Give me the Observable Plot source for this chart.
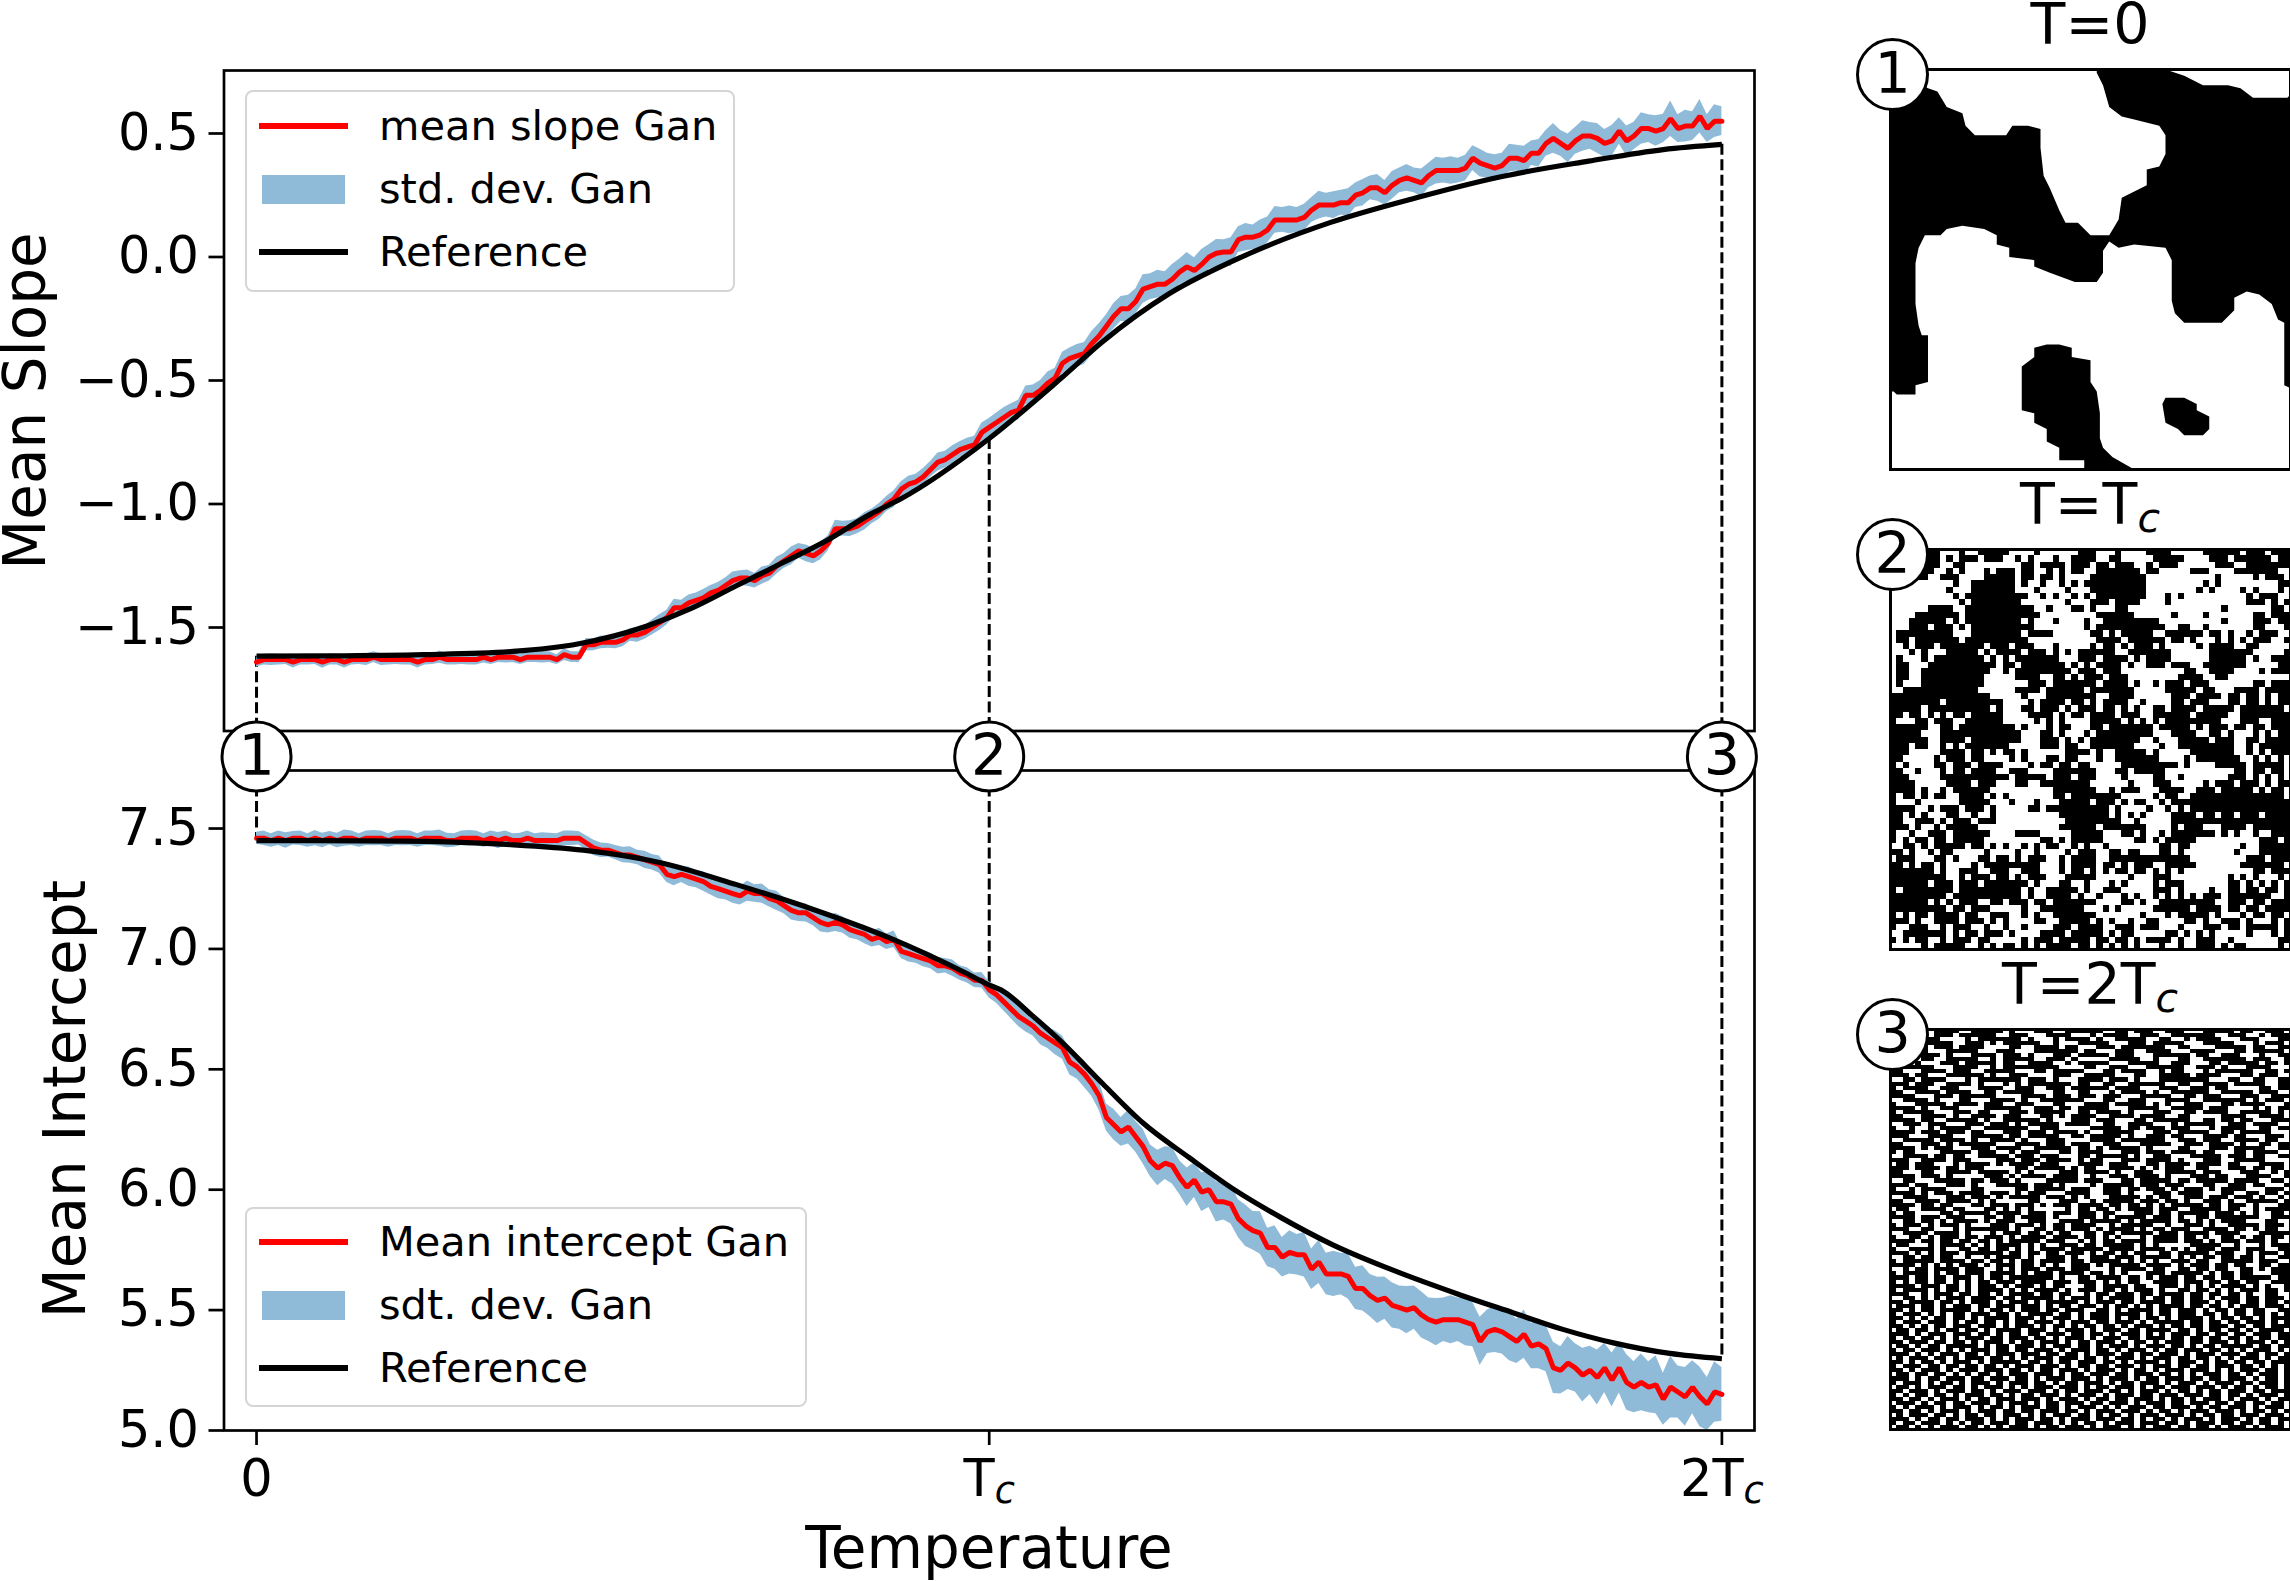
<!DOCTYPE html>
<html><head><meta charset="utf-8">
<script src="https://cdn.jsdelivr.net/npm/d3@7"></script>
<script src="https://cdn.jsdelivr.net/npm/@observablehq/plot@0.6"></script>
<style>
body{margin:0;background:#fff}
#fig{position:relative;width:2290px;height:1581px;overflow:hidden;font-family:"DejaVu Sans";color:#000}
#fig .t{position:absolute;white-space:nowrap;transform:translate(-50%,-50%);line-height:.85}
#fig .lg{position:absolute;box-sizing:border-box;background:#fff;border:2.7px solid #d5d5d5;border-radius:8px}
#fig .it{position:absolute;white-space:nowrap;font-size:41.5px;line-height:42px}
#fig i.s{font-size:.72em;position:relative;top:.2em}
</style></head><body><div id="fig"></div>
<script>
// values
const ganT = [0,0.01,0.02,0.03,0.04,0.05,0.06,0.07,0.08,0.09,0.1,0.11,0.12,0.13,0.14,0.15,0.16,0.17,0.18,0.19,0.2,0.21,0.22,0.23,0.24,0.25,0.26,0.27,0.28,0.29,0.3,0.31,0.32,0.33,0.34,0.35,0.36,0.37,0.38,0.39,0.4,0.41,0.42,0.43,0.44,0.45,0.46,0.47,0.48,0.49,0.5,0.51,0.52,0.53,0.54,0.55,0.56,0.57,0.58,0.59,0.6,0.61,0.62,0.63,0.64,0.65,0.66,0.67,0.68,0.69,0.7,0.71,0.72,0.73,0.74,0.75,0.76,0.77,0.78,0.79,0.8,0.81,0.82,0.83,0.84,0.85,0.86,0.87,0.88,0.89,0.9,0.91,0.92,0.93,0.94,0.95,0.96,0.97,0.98,0.99,1,1.01,1.02,1.03,1.04,1.05,1.06,1.07,1.08,1.09,1.1,1.11,1.12,1.13,1.14,1.15,1.16,1.17,1.18,1.19,1.2,1.21,1.22,1.23,1.24,1.25,1.26,1.27,1.28,1.29,1.3,1.31,1.32,1.33,1.34,1.35,1.36,1.37,1.38,1.39,1.4,1.41,1.42,1.43,1.44,1.45,1.46,1.47,1.48,1.49,1.5,1.51,1.52,1.53,1.54,1.55,1.56,1.57,1.58,1.59,1.6,1.61,1.62,1.63,1.64,1.65,1.66,1.67,1.68,1.69,1.7,1.71,1.72,1.73,1.74,1.75,1.76,1.77,1.78,1.79,1.8,1.81,1.82,1.83,1.84,1.85,1.86,1.87,1.88,1.89,1.9,1.91,1.92,1.93,1.94,1.95,1.96,1.97,1.98,1.99,2]
const slopeMean = [-1.64,-1.63,-1.63,-1.63,-1.63,-1.64,-1.63,-1.63,-1.63,-1.64,-1.63,-1.63,-1.64,-1.63,-1.63,-1.63,-1.62,-1.63,-1.63,-1.63,-1.63,-1.63,-1.64,-1.63,-1.63,-1.62,-1.63,-1.63,-1.63,-1.63,-1.63,-1.62,-1.63,-1.62,-1.62,-1.62,-1.63,-1.62,-1.62,-1.62,-1.62,-1.63,-1.61,-1.62,-1.62,-1.57,-1.57,-1.56,-1.56,-1.56,-1.55,-1.53,-1.53,-1.52,-1.5,-1.48,-1.46,-1.42,-1.42,-1.4,-1.39,-1.38,-1.36,-1.35,-1.33,-1.31,-1.3,-1.3,-1.31,-1.29,-1.28,-1.25,-1.23,-1.21,-1.19,-1.2,-1.21,-1.19,-1.16,-1.1,-1.1,-1.1,-1.09,-1.07,-1.05,-1.03,-1,-0.98,-0.94,-0.92,-0.91,-0.89,-0.86,-0.83,-0.82,-0.8,-0.78,-0.77,-0.76,-0.71,-0.69,-0.67,-0.65,-0.63,-0.62,-0.56,-0.56,-0.54,-0.51,-0.49,-0.43,-0.41,-0.4,-0.39,-0.35,-0.32,-0.28,-0.24,-0.21,-0.21,-0.18,-0.13,-0.12,-0.11,-0.11,-0.09,-0.06,-0.04,-0.055,-0.03,0,0.015,0.02,0.02,0.07,0.08,0.08,0.09,0.11,0.15,0.15,0.15,0.15,0.16,0.19,0.21,0.21,0.21,0.22,0.22,0.25,0.26,0.28,0.28,0.26,0.29,0.31,0.32,0.31,0.3,0.33,0.35,0.35,0.35,0.35,0.36,0.4,0.38,0.37,0.36,0.37,0.4,0.4,0.39,0.42,0.42,0.46,0.48,0.46,0.44,0.47,0.49,0.49,0.48,0.46,0.47,0.51,0.47,0.49,0.52,0.52,0.51,0.52,0.56,0.52,0.53,0.53,0.57,0.52,0.55,0.55]
const slopeStd = [0.02,0.022,0.024,0.022,0.02,0.024,0.022,0.022,0.02,0.025,0.022,0.022,0.024,0.022,0.02,0.024,0.022,0.024,0.022,0.02,0.022,0.022,0.024,0.022,0.02,0.025,0.022,0.022,0.02,0.022,0.022,0.024,0.02,0.022,0.024,0.022,0.02,0.022,0.022,0.024,0.022,0.02,0.024,0.022,0.022,0.025,0.024,0.026,0.024,0.026,0.028,0.026,0.03,0.028,0.03,0.032,0.03,0.034,0.03,0.032,0.03,0.034,0.03,0.032,0.03,0.035,0.03,0.033,0.03,0.035,0.032,0.034,0.03,0.036,0.03,0.034,0.032,0.036,0.03,0.034,0.03,0.032,0.03,0.035,0.03,0.032,0.03,0.034,0.03,0.032,0.03,0.034,0.032,0.036,0.034,0.036,0.032,0.036,0.034,0.038,0.036,0.038,0.04,0.036,0.04,0.038,0.042,0.04,0.044,0.04,0.044,0.042,0.046,0.044,0.048,0.05,0.046,0.052,0.05,0.055,0.05,0.058,0.052,0.056,0.05,0.06,0.052,0.058,0.052,0.06,0.05,0.056,0.05,0.058,0.052,0.056,0.05,0.06,0.052,0.054,0.05,0.056,0.05,0.054,0.05,0.056,0.048,0.054,0.05,0.056,0.05,0.054,0.048,0.054,0.05,0.056,0.05,0.054,0.05,0.056,0.05,0.054,0.05,0.056,0.05,0.052,0.05,0.056,0.05,0.054,0.05,0.056,0.052,0.058,0.05,0.056,0.052,0.06,0.052,0.058,0.054,0.062,0.054,0.06,0.056,0.062,0.054,0.06,0.056,0.064,0.056,0.062,0.058,0.072,0.056,0.064,0.058,0.068,0.056,0.066,0.058,0.07,0.058,0.066,0.06]
const refSlopeT = [0,0.1,0.228,0.35,0.44,0.533,0.594,0.655,0.716,0.777,0.838,0.879,1,1.098,1.153,1.246,1.348,1.466,1.583,1.7,1.818,1.92,2]
const refSlope = [-1.616,-1.615,-1.61,-1.597,-1.566,-1.494,-1.422,-1.331,-1.241,-1.15,-1.041,-0.98,-0.735,-0.491,-0.347,-0.148,0.005,0.14,0.24,0.326,0.388,0.435,0.456]

const interceptMean = [7.46,7.46,7.45,7.46,7.45,7.46,7.46,7.45,7.46,7.45,7.46,7.45,7.46,7.46,7.45,7.46,7.46,7.46,7.45,7.46,7.46,7.46,7.45,7.46,7.46,7.46,7.45,7.45,7.46,7.46,7.46,7.45,7.46,7.45,7.46,7.45,7.45,7.46,7.45,7.45,7.45,7.45,7.46,7.46,7.46,7.44,7.42,7.41,7.41,7.4,7.39,7.39,7.38,7.37,7.36,7.35,7.31,7.3,7.31,7.3,7.29,7.28,7.26,7.25,7.24,7.23,7.22,7.24,7.23,7.23,7.21,7.2,7.18,7.16,7.15,7.15,7.13,7.11,7.1,7.11,7.1,7.08,7.07,7.06,7.04,7.05,7.03,7.04,6.99,6.98,6.97,6.96,6.95,6.93,6.93,6.92,6.9,6.89,6.87,6.87,6.83,6.81,6.78,6.75,6.72,6.7,6.68,6.65,6.63,6.61,6.59,6.53,6.51,6.48,6.44,6.39,6.3,6.27,6.24,6.26,6.22,6.18,6.12,6.09,6.11,6.1,6.05,6.01,6.04,5.99,6,5.95,5.95,5.94,5.88,5.85,5.83,5.82,5.76,5.76,5.72,5.74,5.73,5.73,5.67,5.7,5.65,5.65,5.65,5.64,5.59,5.59,5.56,5.54,5.55,5.52,5.51,5.5,5.51,5.48,5.46,5.45,5.46,5.46,5.46,5.45,5.44,5.37,5.41,5.42,5.41,5.39,5.37,5.4,5.35,5.36,5.34,5.26,5.25,5.28,5.26,5.23,5.25,5.22,5.26,5.21,5.26,5.2,5.18,5.2,5.18,5.19,5.13,5.18,5.16,5.14,5.18,5.14,5.11,5.16,5.15]
const interceptStd = [0.025,0.03,0.028,0.03,0.032,0.028,0.03,0.028,0.032,0.03,0.028,0.03,0.034,0.03,0.028,0.03,0.032,0.03,0.028,0.03,0.032,0.03,0.028,0.03,0.03,0.034,0.03,0.028,0.03,0.032,0.03,0.028,0.03,0.034,0.03,0.028,0.03,0.03,0.028,0.032,0.03,0.028,0.03,0.03,0.028,0.03,0.032,0.03,0.028,0.03,0.032,0.034,0.03,0.036,0.032,0.036,0.034,0.038,0.034,0.04,0.036,0.04,0.036,0.042,0.036,0.04,0.038,0.042,0.036,0.04,0.036,0.04,0.034,0.04,0.036,0.038,0.034,0.04,0.034,0.038,0.034,0.036,0.032,0.038,0.032,0.036,0.032,0.034,0.03,0.034,0.03,0.034,0.032,0.034,0.03,0.034,0.03,0.032,0.03,0.032,0.034,0.036,0.038,0.04,0.042,0.045,0.042,0.048,0.044,0.05,0.048,0.054,0.05,0.056,0.052,0.06,0.056,0.064,0.06,0.07,0.064,0.072,0.066,0.074,0.068,0.076,0.07,0.08,0.072,0.08,0.074,0.084,0.076,0.082,0.078,0.086,0.08,0.088,0.08,0.09,0.082,0.09,0.084,0.092,0.084,0.09,0.086,0.094,0.086,0.094,0.088,0.094,0.088,0.096,0.088,0.094,0.09,0.098,0.09,0.096,0.09,0.098,0.09,0.1,0.09,0.098,0.092,0.1,0.09,0.096,0.092,0.1,0.092,0.1,0.094,0.104,0.096,0.106,0.098,0.11,0.1,0.112,0.1,0.114,0.102,0.112,0.104,0.116,0.106,0.118,0.106,0.12,0.108,0.128,0.108,0.122,0.11,0.124,0.11,0.126,0.112,0.124,0.117]
const refInterceptT = [0,0.2,0.341,0.446,0.55,0.655,0.759,0.864,0.968,1,1.016,1.058,1.099,1.155,1.21,1.273,1.336,1.399,1.469,1.545,1.643,1.713,1.783,1.852,1.929,2]
const refIntercept = [7.45,7.448,7.434,7.41,7.359,7.267,7.165,7.046,6.9,6.85,6.83,6.725,6.613,6.44,6.277,6.133,5.997,5.883,5.771,5.673,5.563,5.491,5.42,5.364,5.32,5.298]

const markerT = [0,1,2]
const markerLabels = ['1','2','3']
const slopeAtMarker = [-1.616,-0.735,0.456]
const interceptAtMarker = [7.45,6.85,5.298]
const slopeTicks = [0.5,0,-0.5,-1,-1.5]
const interceptTicks = [7.5,7,6.5,6,5.5,5]
const xTickLabels = ['0','Tc','2Tc']
const slopeLegend = ['mean slope Gan','std. dev. Gan','Reference']
const interceptLegend = ['Mean intercept Gan','sdt. dev. Gan','Reference']
const snapshotTitles = ['T=0','T=T<i class="s">c</i>','T=2T<i class="s">c</i>']

// T=0 snapshot: black domains as outlines in lattice cells (128 x 128, y down)
const domainMain = [[0,0],[12,6],[15,7],[18,12],[23,14],[24,18],[27,21],[37,21],[39,18],[44,18],[48,19],[48,25],[49,34],[51,38],[54,45],[56,49],[60,49],[64,53],[70,53],[73,48],[74,41],[78,39],[82,37],[82,32],[86,31],[88,27],[88,21],[86,18],[78,16],[74,15],[70,12],[68,5],[66,1],[66,0],[88,0],[94,2],[100,5],[108,5],[112,6],[116,9],[127,9],[128,8],[128,102],[126,101],[126,81],[124,80],[122,75],[118,72],[114,71],[110,73],[110,77],[106,81],[94,81],[91,78],[90,74],[90,61],[88,57],[78,56],[73,57],[70,55],[68,58],[68,65],[66,68],[59,68],[51,65],[46,63],[46,61],[38,60],[38,57],[34,56],[34,53],[30,51],[23,50],[18,51],[16,53],[11,53],[9,57],[8,62],[8,75],[9,82],[10,85],[12,85],[12,100],[8,101],[8,104],[2,104],[1,103],[0,103]]
const domainLower = [[46,89],[50,88],[54,88],[58,89],[58,92],[64,93],[64,100],[66,103],[67,110],[67,118],[68,121],[71,124],[78,128],[62,128],[62,125],[54,125],[54,121],[50,119],[50,115],[46,113],[46,110],[42,109],[42,95],[46,92]]
const domainIsland = [[88,105],[94,105],[98,107],[98,109],[102,111],[102,115],[100,117],[94,117],[92,115],[88,113],[87,107]]

// T=Tc and T=2Tc snapshots, hand estimate on a coarser grid, not the exact lattice
const latticeTc = [
"########...#..#####....#......###...#....####.....######.###.###",
"########.#.###.###..#.#...#..####..##.....#####....###.######.##",
"########..##.........##.####.###.##.###..#.###......###..#######",
"#######..#.#...#.###.##..#.#.##..#######.##.....###....#######..",
"######..###....#####.##.##.#....#########...........#.....#.###.",
"###.......#..#######.#..#..#.#.##########.........#.#.........##",
".........#...#######...#....#...#########........#.#....#.#...#.",
"..........#.##########..#.#..#.#.########...#.#..........#.###..",
"...........#.########.......#...###.####....#............###.#.#",
"......####..###########..#...##.#...##...............#.......##.",
"....#######.############.........######......#....#.......##.###",
"...######.#.#########.#...#....#..#########..........#....###.##",
"...###.###.#.##########........#.###########..##..#.......##...#",
".#########...########.####......##.#.#####..######.##.#..#.###..",
".##.#######.##########...........####.######.##.#...#.#.#.###..#",
"..#.###.#######.###.###...#.....#.##.#.###.#.....#.####..##.....",
"...#.#...#####.#.####.###.#.#.######..#######......#######.....#",
".#...#.########.#.#.#######...###.####.#.####......######.#..###",
".##...###########.##.#######.#.#.####.#..###.###..#######.....##",
".##..###########..#.#########.###.###..........##..####....#.###",
".##..##########.....####..##.#.###.###........####..##..........",
".#...##########.......###.#######.####.#..#.###.###.......##.###",
"..############......####.######.#######.....#####.##...####.####",
"################.....#...########..####......###.####.##.##.#.##",
"########.#########....#.####.##.#.####..#....##.###...##.##.#.##",
"#####.##########.#...##.###.#.###.##.#.#..##.####.#####.#######.",
"##.##.#.#.##.#####....####.#.##.####.###..######.#####..########",
"#...##.###..######.....#.#.#....#####.#.#.#.#########...###..###",
"######..##.#########.#...#.##...##.#######.#####.#.###.##.##.###",
"#####...#############...##.#...#.#########...####..##.#...#.#.##",
"######..####.########...###.#.#.########..#...#####.###..##.####",
"###.##..#.#.#######.....###.##..#######....#..#########..#.#####",
"###.....####.##.#.##.#......####.#..#####.#.....#######..#.#.###",
"##.....#.###.##....#.#...##.##...#..#######....#.#######..#.#.#.",
"#.#....##.###.####....#.##.##.##.....#########.#....#####.#####.",
"##..#...#.##.####..###....#######...##.#####...........##.##.##.",
"###.....###########.#####.###.###....#....##..#.......###.#.#.#.",
"####.....####.###...##..########......#...###.....#.###.###.#.##",
"####.#..#.######..........#######..#.###...####..###.#####.#.##.",
"#.##.#.##..####.#.#.......##.########.....#.##..###############.",
"#...#......#####...#...#...#####.###.#.##..#.###################",
"####..#.###.###.#.....##.##########.#....#..#.#.################",
"##.#.#...##..#..#..........########.#.#.#....####.##.##.###.####",
"##..###.#.###.###...........#########..#.....###################",
"###.#..#.#####.............######.#######....#.###...####.#######",
"#..#..###.######....####.....#####...##.#..#.#######.#.#..#..###",
"#.#.##.##.#####.........##.#.#####.....##.#.#####..........###.#",
"..##.#.#####.##.#.#..#.#.##..#.#..#........##.##........#..#####",
"##.#..#.##.....#....#..#....#.###..##.##...##.#........#...#####",
".###...##.#...##.##.#.###..#.####..#############.........###.###",
"##.#.##.#....#.#########...#.####.##.#.###..#####.......#######.",
"#######.#..###..###..###...#.##.#.#.##.##.#.#.#...........##.###",
"#########..#.###.##.#.###...#####.....#...###.........#.#.#...#.",
"######.###.###.#######.#...##..#...#.#....#.###.......##.#.#.#.#",
"#.########.##########.#..#####.#..###.....###.#....#..##.##.##.#",
"#########.###########.#..####.#..#...#.#..#.#.#.#.###.#######..#",
"######.#.#.###..##.###.##.#######....##.#..#########..###.##.###",
"#########.##.###.....#..#######...#.#.....######.####.##.##.####",
"#.#.##.####.##..###..#.#..#######.......#...#.#####.#...#.##.##.",
"###.#..####.###.#.#....##..#####.#.#..#..##....##.#..###.#...#.#",
"#..###..#.###..#..#..#....###.####..###.###...#...###.##.#####.#",
"..#######.#.##.###.#....####.#####.#.##.....##.#.#.#.....#...#.#",
"#.#.##..#.###.##.....#.###.#####.##.##.#.####.#..###..#.......##",
".....#.#####..#.#.##.#.#.####.##.#.#.#.#...#..#..###.#.##.....#."]
const lattice2Tc = [
"#####..####..#####.#...###..######..##.###..###...#####.##..###.#",
"####...###.######..###...####...#.####..###..#######..###..#.####",
"####.###....#.#######.#...#.####.#..#####..##..#.####...###...###",
"###..#####..###.#.######..#...#####...###.#####...#####...#.###.#",
"##...#.###.####....##..####.##...###.#######..##....#####.##..###",
"#..###...#####...###...#######.##...###..####...####...##.#####..",
"..######.#...####.###.#...###.#####.###...######.##..###...#..###",
"###..##..#####..#.#####..###.#.....#####..#...##..#######.###..##",
"###.#...###.#####.##..####..#.#####...#####..###...##.#####.##.##",
"..#####...####..#.#########....##..###...######..###.#...####...",
"##...####.###..#####...##.#####...##.####..#.##...#.######..##.##",
"###.##...######.#..###....###..#####...##..#####.####...##.###..",
"..##.####...#.#######.###.#...####.###.#...########...##..##..###",
"###.###..####.#...#.#.#######.##..##..######..##..####.#####..##.",
"#.####..###...####..###..###.######.####...###..###.##.....##.###",
"##..####.####..##.#####...##..##...#.####.#..######..#####.###..#",
"####...###.######....####.###.###.###...#####..##.###...###..####",
"..####.#...##...####.#..#######...##..###...####..#######.#.###.#",
"#...#####.####.###..###...##...####.#####.#.#..###...##.####...###",
"####.#..###....######..###.##.#####...#####..#####.###....#.#.###",
"#.#####...###.##...###.#####..##.####.#...###..##.####..#####.#..",
"##...####.#..####.###...##.#.####..####.####..##.....####..####.#",
"####.##..#####.#..######.#...###.###...##.######..##.##.##...####",
"..###.###...###.###.#.#####.####..##..####...#.#####..###.####...",
"#..#..#.#####..#######..###.....#####.##.###.###...#.####..##.###",
"####.###.###.##...###.###.####.#..#####...###.#####..##.#####...#",
"###...####...#####.##.#####..##.#####.#..###.##...####.##...###.#",
"..#####.####.#..####.#...###....####.#######..###.###..####.##..#",
"##...###.#.######...####.###.###..###...#####..###.####.#..##.###",
"####.#.###...###.####..######.##.#.#####.#....##...###.#####..###",
"#.##....#####.###..#.###...##.####...###.###.####.##...##.####..",
"..####.##.##..#####.###.###...##.#####.#..###...#####.###.##..###",
"###..####.###....###.###.####.#.##...###.####.#...###..#####....#",
".##.###...#.####.#.####.###...####.###...##.####.####.##...####.##",
"###.####.##.###.....##.#####.#.##..####.#.#.###..##...###.##.##..",
"##...##..####.#####.#.#....###.####.#..###..#####.###...###..#.###",
"####.###.#.....###.#.####.####..#..###.####.#...###.##...####..##.",
"..##...#####.##.###.#....#####.###...##.#####.##.#####.####..##.##",
"###.##...###.#...#####.###.#....#.#####.###.###...##..###.##...###",
"#..#.####....##.....##.#####.###..###.##.###.#.###.#.####...###...",
"####.#.###.####.###.#.###...####..###.#...###.####...##..##.##.###",
"..####...###.###.#.#####.###.#.#...#####.#.##..###.###.###.#..#..#",
"##..####.####.#.#.....##...###..#.#####.###.##.#..###.#..#####.###",
"####.##.##...##.###.###.#.###.####.##.##.#.#.#####.##.###.#...##.",
".##..####.##...##.#.#.#.....#.##.##.#.####.###..#####.##..#.####.#",
"#.##....##.#####.####.###.###.###.##...###.##.#####.###.#.#..##..#",
"####.###.###...##.##.####.#...###.#.#####.###.#..##.#######..###.",
"..##.##.#.####.#.###..###..####.#####.#.#####.##.#.#.####...##..#",
"#.###.#.###.#...###.###.#.##.####..#.#####..#..###.#..#####.###.#",
"###..##...#.#######.#..##.##.###.#.####.#.##.###..####.##.#.##...",
"..####.####.#...#.###.##.#.##..##.##.#####.###.####.####...#####.",
"#..##.#.###.##.###.#.####.####.##.#.#...#.####.##.#..##.#.##.##.#",
"####.##.##.##.##.#.#####.###..#.#.##.####.####.###.#.###.###.#..#",
".##...#.####.#.#.####.#.#..###.##.#####.#.#.....#####..#...#.###.",
"#..####.#..##.##.##.#.#.####.#####.####.####.#.#.###.###.###..###",
"###.#.#.###.######.##.##.##.###.#.##.#.##..##.#####.###..#.###.#.",
"..##.##.##..#..#.####.#..###.#..###.###.#####.#.#.##.##.##.#..###",
"#.#####.####.##.##.#.##.####.##.#####.#.#.#..###.##..#####.###...",
"####.#.#.#.###.#.###.##.#.#..###.#.#####.####.#.###.##.##..##.###",
"..#.##.####.###..#.#.###.###.###...#.####.##..##.##.##..##.#.###.",
"#.####.#.##.###.####.#.###.####.##.#.#...###.#####.#.##.##...###.",
"###.##.##.###.#.##.#######.#..##.####.##.#.###.##.##.##.#####.##.",
"#.#.##.##.#.#.##.###.####.###.###.#.#.##..####.###.##.##.##..###.",
"####.###.##.#.###.#.###.#.##...##.####.##..###.#.#.#.####.#.#..##",
"#.####.#.##.#.####.#.#.####.#.###.##.#.###.#..##.##.#.#.###.##.##",
"###..#.###.##.##.#.####.##.##..#.##.###.##.####.##.##.##.#..##..#",
"..##.#.#.###.####.##.#####.#.###.#.####.#.##.##.##.#.###.##.###..",
"##.####.##.#.###.#.###.#.#####.#.###.##.####.##.###.#.##.##.##.##",
".###.##.#.###.##.###.###.#.##.###.#.##.#.#.####.##.##.#.###.###.#",
"##.#.##.#####.#.##.#.###.##.###..##.#.####.##.###.#.##.##.##..###",
"#.###.#.#.##.###.##.#.####.##.#.###.####.#.##.###.##.#.##.##.#.##",
"##.#.#.##.##.#.####.###.#.###.#.###.#.##.##.#.####.#.##.##.#.###.",
"#.###.###.#.##.##.#.##.###.#.###.##.###.#.#####.##.##.##.###.#.##",
"##.#.#.##.###.###.#.###.#.##.#.##.##.#.###.#.##.##.###.##.##.###.",
".##.##.#.##.##.#.####.###.#.###.#.###.##.####.##.#.##.##.#.####.#",
"###.#.###.###.##.#.##.##.###.##.##.#.###.#.#.###.##.##.##.###.##.",
"#.##.##.#.#.###.##.###.##.#.###.#.###.##.###.##.##.##.##.#.##.###",
"##.###.##.##.#.###.#.##.###.#.##.###.#.##.#.###.##.###.#.###.#.##",
".##.#.##.#####.#.##.###.#.###.##.#.###.#.###.##.#.##.#####.##.##.",
"#.##.###.#.#.###.##.##.###.#.###.##.#.###.#.##.###.##.#.#.###.#.#",
"###.#.#.###.##.#.###.###.##.##.#.###.##.##.###.#.###.###.##.##.##",
".#.###.##.#.###.##.#.#.###.###.##.#.###.#.###.##.##.#.#.###.#.###",
"##.#.##.#.###.#.#####.##.#.##.###.##.#.####.#.###.#.##.##.##.###.",
"#.###.##.##.##.##.#.###.###.#.##.##.###.#.###.##.##.###.##.#.#.##",
"##.#.###.#.###.###.##.#.##.###.#.###.#.##.#.###.###.#.#.###.##.##",
".##.##.##.#.#.##.#.###.###.#.##.###.##.###.##.#.#.###.##.#.###.##",
"###.#.##.###.##.###.##.#.###.###.#.###.#.##.###.##.##.###.#.##.#.",
"#.###.#.##.#.###.#.###.##.#.##.###.#.##.###.#.###.#.###.##.###.##",
".##.#.###.##.#.###.#.#.###.###.#.##.###.#.##.###.###.#.##.#.##.##",
"##.###.#.###.##.#.###.###.#.##.###.##.#.###.#.##.#.##.###.##.###.",
"#.#.##.##.#.###.##.#.##.###.#.###.#.###.##.###.###.##.##.#.###.##",
"##.##.#.###.#.##.###.###.#.###.#.##.##.###.#.##.#.###.#.###.#.###",
".###.#.##.##.###.#.###.#.##.###.##.###.#.###.##.###.##.##.##.##.#",
"#.#.###.#.###.#.##.#.###.##.#.###.#.#.###.##.###.#.##.###.#.###.#",
"##.##.#.###.#.###.##.##.###.##.#.###.###.#.##.#.###.###.#.##.#.##",
".#.###.##.#.##.##.###.#.#.###.##.#.##.#.###.###.#.##.##.###.###.#",
"###.#.##.##.###.#.#.###.##.#.###.###.##.#.##.#.###.#.###.#.##.###",
"#.##.###.#.#.##.###.##.###.#.#.##.#.###.###.##.#.###.##.##.##.#.#",
".##.#.#.###.##.#.#.###.#.##.###.#.###.#.#.###.##.##.#.###.#.###.#"]

const font = 'DejaVu Sans'
const black = 'black', red = 'red', band = '#8fbbd9'
const fig = document.getElementById('fig')

const place = (svg, left, top) => {
  svg.style.position = 'absolute'
  svg.style.left = left + 'px'
  svg.style.top = top + 'px'
  fig.append(svg)
  return svg
}
const baseStyle = {background: 'transparent', maxWidth: 'none', fontFamily: font, color: 'black', overflow: 'visible'}

const addText = (html, x, y, size, rotate) => {
  const el = document.createElement('div')
  el.className = 't'
  el.innerHTML = html
  el.style.left = x + 'px'
  el.style.top = y + 'px'
  el.style.fontSize = size + 'px'
  if (rotate) el.style.transform = `translate(-50%,-50%) rotate(${rotate}deg)`
  fig.append(el)
  return el
}

// x tick labels: T with small italic c
const subscriptC = svg => {
  d3.select(svg).selectAll('text').each(function () {
    const s = this.textContent
    if (!/Tc$/.test(s)) return
    const t = d3.select(this).text(s.slice(0, -1))
    t.append('tspan').attr('font-style', 'italic').attr('font-size', '0.72em').attr('dy', '0.2em').text('c')
  })
  return svg
}

const xDomain = [-0.0444, 2.0445]
const ganRows = (mean, std) => ganT.map((t, i) => ({t, m: mean[i], s: std[i]}))
const refRows = (ts, ys) => ts.map((t, i) => ({t, y: ys[i]}))

const curveMarks = (gan, ref) => [
  Plot.areaY(gan, {x: 't', y1: d => d.m - d.s, y2: d => d.m + d.s, fill: band}),
  Plot.line(gan, {x: 't', y: 'm', stroke: red, strokeWidth: 5, strokeLinejoin: 'miter'}),
  Plot.line(ref, {x: 't', y: 'y', stroke: black, strokeWidth: 5.2, curve: 'monotone-x', strokeLinecap: 'butt'}),
]

// top panel
place(Plot.plot({
  width: 1800, height: 760,
  marginLeft: 223.5, marginRight: 46, marginTop: 70, marginBottom: 29.5,
  style: baseStyle,
  x: {domain: xDomain, axis: null},
  y: {domain: [-1.919, 0.755]},
  marks: [
    Plot.ruleX(markerT, {x: d => d, y1: (d, i) => slopeAtMarker[i], y2: -1.919, stroke: black, strokeWidth: 3, strokeDasharray: '11,4.5'}),
    ...curveMarks(ganRows(slopeMean, slopeStd), refRows(refSlopeT, refSlope)),
    Plot.axisY(slopeTicks, {tickSize: 15, tickPadding: 10, fontSize: 51, strokeWidth: 2.7, label: null, tickFormat: d3.format('.1f')}),
    Plot.frame({stroke: black, strokeWidth: 2.7}),
  ],
}), 0, 0)

// bottom panel
place(subscriptC(Plot.plot({
  width: 1800, height: 841,
  marginLeft: 223.5, marginRight: 46, marginTop: 30, marginBottom: 151,
  style: baseStyle,
  x: {domain: xDomain},
  y: {domain: [5, 7.741]},
  marks: [
    Plot.ruleX(markerT, {x: d => d, y1: 7.741, y2: (d, i) => interceptAtMarker[i], stroke: black, strokeWidth: 3, strokeDasharray: '11,4.5'}),
    ...curveMarks(ganRows(interceptMean, interceptStd), refRows(refInterceptT, refIntercept)),
    Plot.axisY(interceptTicks, {tickSize: 15, tickPadding: 10, fontSize: 51, strokeWidth: 2.7, label: null, tickFormat: d3.format('.1f')}),
    Plot.axisX(markerT, {tickSize: 15, tickPadding: 14, fontSize: 51, strokeWidth: 2.7, label: null, tickFormat: (d, i) => xTickLabels[i]}),
    Plot.frame({stroke: black, strokeWidth: 2.7}),
  ],
})), 0, 740)

// numbered circles between the panels
place(Plot.plot({
  width: 1800, height: 100,
  marginLeft: 223.5, marginRight: 46, marginTop: 0, marginBottom: 0,
  style: baseStyle,
  x: {domain: xDomain, axis: null},
  marks: [
    Plot.dot(markerT, {x: d => d, frameAnchor: 'middle', r: 34.5, fill: 'white', stroke: black, strokeWidth: 3}),
    Plot.text(markerT, {x: d => d, frameAnchor: 'middle', text: (d, i) => markerLabels[i], fontSize: 57, fill: black}),
  ],
}), 0, 706)

// axis labels
addText('Mean Slope', 26, 401, 58, -90)
addText('Mean Intercept', 66, 1099, 58, -90)
addText('Temperature', 989, 1549, 58)

// legends
const addLegend = (names, left, top, w, h, rowY) => {
  const box = document.createElement('div')
  box.className = 'lg'
  box.style.cssText = `left:${left}px;top:${top}px;width:${w}px;height:${h}px`
  fig.append(box)
  const colors = [red, band, black]
  names.forEach((name, i) => {
    const sw = document.createElement('div')
    const hgt = i === 1 ? 29 : 5.5
    const x0 = i === 1 ? 262 : 259
    const x1 = i === 1 ? 345 : 348
    sw.style.cssText = `position:absolute;left:${x0}px;top:${rowY[i] - hgt / 2}px;width:${x1 - x0}px;height:${hgt}px;background:${colors[i]}`
    fig.append(sw)
    const tx = document.createElement('div')
    tx.className = 'it'
    tx.textContent = name
    tx.style.left = '379px'
    tx.style.top = rowY[i] - 21 + 'px'
    fig.append(tx)
  })
}
addLegend(slopeLegend, 244.5, 90, 490, 202, [126, 189, 252])
addLegend(interceptLegend, 245, 1207, 562, 200, [1242, 1305, 1368])

// snapshots
const parseLattice = rows => {
  const cells = []
  rows.forEach((row, r) => {
    for (let c = 0; c < 64; c++) if (row[c] === '#') cells.push({c, r})
  })
  return cells
}
const snapshot = (label, top, nx, ny, marks) => place(Plot.plot({
  width: 440, height: 444,
  marginLeft: 40, marginRight: 0, marginTop: 40, marginBottom: 4,
  style: baseStyle,
  x: {domain: [0, nx], axis: null},
  y: {domain: [ny, 0], axis: null},
  marks: [
    ...marks,
    Plot.frame({stroke: black, strokeWidth: 3}),
    Plot.dot([label], {x: () => 0, y: () => 0, dx: 2, dy: 5, r: 35, fill: 'white', stroke: black, strokeWidth: 3}),
    Plot.text([label], {x: () => 0, y: () => 0, dx: 2, dy: 5, text: d => d, fontSize: 57, fill: black}),
  ],
}), 1850, top)

const latticeMarks = rows => [Plot.rect(parseLattice(rows), {x1: 'c', x2: d => d.c + 1, y1: 'r', y2: d => d.r + 1, fill: black, shapeRendering: 'crispEdges'})]
const domainMark = pts => Plot.line(pts, {x: d => d[0], y: d => d[1], fill: black, stroke: 'none'})

snapshot('1', 29, 128, 128, [domainMark(domainMain), domainMark(domainLower), domainMark(domainIsland)])
snapshot('2', 509, 64, latticeTc.length, latticeMarks(latticeTc))
snapshot('3', 989, 64, lattice2Tc.length, latticeMarks(lattice2Tc))

addText(snapshotTitles[0], 2090, 24, 57)
addText(snapshotTitles[1], 2090, 504, 57)
addText(snapshotTitles[2], 2090, 984, 57)
</script></body></html>
